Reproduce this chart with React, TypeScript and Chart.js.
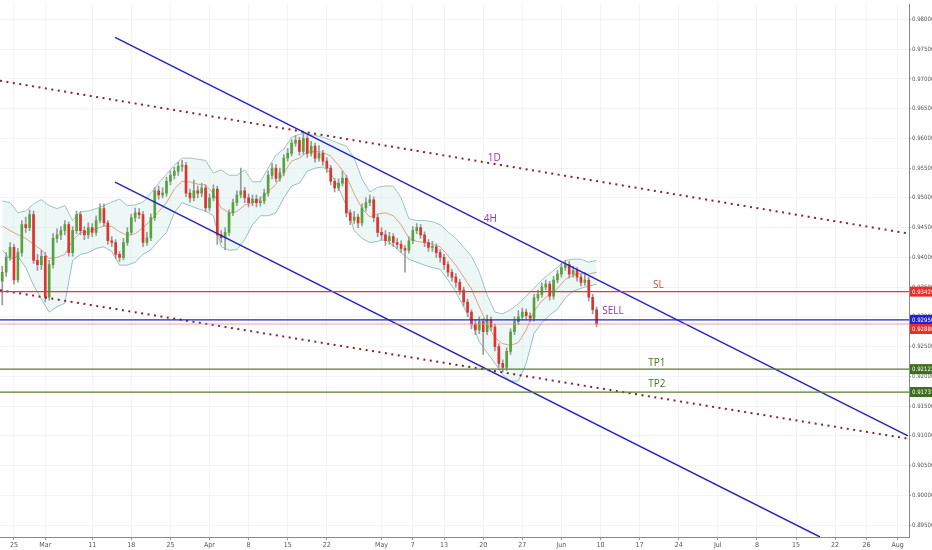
import React, { useEffect, useRef } from "react";
import { Chart, registerables } from "chart.js";

Chart.register(...registerables);

// x axis is in trading days counted from Mon 25 Feb
const xTickDays = [0, 4, 10, 15, 20, 25, 30, 35, 40, 47, 51, 55, 60, 65, 70, 75, 80, 85, 90, 95, 100, 105, 109, 113];
const xTickLabels = ["25", "Mar", "11", "18", "25", "Apr", "8", "15", "22", "May", "7", "13", "20", "27", "Jun", "10", "17", "24", "Jul", "8", "15", "22", "26", "Aug"];
const priceTicks = [0.895, 0.9, 0.905, 0.91, 0.915, 0.92, 0.925, 0.93, 0.935, 0.94, 0.945, 0.95, 0.955, 0.96, 0.965, 0.97, 0.975, 0.98];

// half-day candles
const opens = [
  0.9360, 0.9375, 0.9400, 0.9417, 0.9362, 0.9408, 0.9455, 0.9450, 0.9472, 0.9395,
  0.9388, 0.9402, 0.9333, 0.9388, 0.9432, 0.9438, 0.9445, 0.9455, 0.9408, 0.9445,
  0.9472, 0.9445, 0.9438, 0.9450, 0.9442, 0.9462, 0.9482, 0.9458, 0.9428, 0.9425,
  0.9405, 0.9400, 0.9425, 0.9442, 0.9467, 0.9475, 0.9472, 0.9425, 0.9433, 0.9467,
  0.9512, 0.9505, 0.9508, 0.9528, 0.9538, 0.9545, 0.9553, 0.9555, 0.9508, 0.9500,
  0.9512, 0.9508, 0.9517, 0.9483, 0.9500, 0.9515, 0.9438, 0.9433, 0.9442, 0.9475,
  0.9492, 0.9505, 0.9512, 0.9500, 0.9492, 0.9498, 0.9492, 0.9495, 0.9508, 0.9538,
  0.9550, 0.9533, 0.9542, 0.9567, 0.9575, 0.9592, 0.9597, 0.9578, 0.9600, 0.9575,
  0.9587, 0.9567, 0.9575, 0.9562, 0.9550, 0.9528, 0.9517, 0.9525, 0.9533, 0.9475,
  0.9462, 0.9468, 0.9458, 0.9483, 0.9492, 0.9497, 0.9467, 0.9442, 0.9438, 0.9428,
  0.9435, 0.9425, 0.9422, 0.9415, 0.9412, 0.9428, 0.9445, 0.9450, 0.9438, 0.9425,
  0.9417, 0.9418, 0.9408, 0.9400, 0.9388, 0.9375, 0.9367, 0.9358, 0.9345, 0.9325,
  0.9308, 0.9288, 0.9278, 0.9292, 0.9275, 0.9295, 0.9283, 0.9250, 0.9222, 0.9215,
  0.9242, 0.9275, 0.9292, 0.9300, 0.9308, 0.9302, 0.9298, 0.9332, 0.9338, 0.9350,
  0.9355, 0.9335, 0.9362, 0.9372, 0.9383, 0.9388, 0.9372, 0.9378, 0.9367, 0.9358,
  0.9362, 0.9333, 0.9312,
];
const highs = [
  0.9385, 0.9408, 0.9425, 0.9422, 0.9415, 0.9462, 0.9468, 0.9480, 0.9478, 0.9405,
  0.9412, 0.9408, 0.9395, 0.9440, 0.9448, 0.9452, 0.9462, 0.9460, 0.9452, 0.9478,
  0.9477, 0.9452, 0.9458, 0.9457, 0.9470, 0.9490, 0.9490, 0.9462, 0.9435, 0.9430,
  0.9410, 0.9432, 0.9450, 0.9473, 0.9483, 0.9482, 0.9477, 0.9442, 0.9473, 0.9518,
  0.9520, 0.9517, 0.9535, 0.9545, 0.9552, 0.9560, 0.9563, 0.9560, 0.9515, 0.9530,
  0.9520, 0.9525, 0.9522, 0.9507, 0.9522, 0.9520, 0.9445, 0.9450, 0.9480, 0.9498,
  0.9512, 0.9550, 0.9518, 0.9507, 0.9505, 0.9505, 0.9502, 0.9515, 0.9545, 0.9558,
  0.9556, 0.9550, 0.9573, 0.9583, 0.9598, 0.9605, 0.9602, 0.9612, 0.9605, 0.9595,
  0.9592, 0.9588, 0.9580, 0.9568, 0.9555, 0.9533, 0.9532, 0.9545, 0.9538, 0.9480,
  0.9477, 0.9473, 0.9490, 0.9500, 0.9505, 0.9502, 0.9472, 0.9450, 0.9445, 0.9442,
  0.9440, 0.9432, 0.9428, 0.9420, 0.9435, 0.9452, 0.9457, 0.9455, 0.9443, 0.9430,
  0.9427, 0.9423, 0.9413, 0.9405, 0.9393, 0.9380, 0.9373, 0.9363, 0.9350, 0.9330,
  0.9312, 0.9295, 0.9300, 0.9297, 0.9303, 0.9300, 0.9288, 0.9255, 0.9228, 0.9248,
  0.9280, 0.9300, 0.9310, 0.9315, 0.9313, 0.9307, 0.9338, 0.9345, 0.9357, 0.9362,
  0.9360, 0.9368, 0.9378, 0.9390, 0.9395, 0.9393, 0.9385, 0.9383, 0.9372, 0.9375,
  0.9367, 0.9338, 0.9317,
];
const lows = [
  0.9320, 0.9368, 0.9395, 0.9355, 0.9358, 0.9402, 0.9442, 0.9445, 0.9390, 0.9378,
  0.9380, 0.9325, 0.9328, 0.9382, 0.9425, 0.9430, 0.9438, 0.9402, 0.9402, 0.9440,
  0.9438, 0.9430, 0.9432, 0.9435, 0.9437, 0.9458, 0.9452, 0.9422, 0.9418, 0.9398,
  0.9393, 0.9396, 0.9420, 0.9438, 0.9460, 0.9465, 0.9418, 0.9420, 0.9428, 0.9462,
  0.9498, 0.9500, 0.9503, 0.9522, 0.9532, 0.9538, 0.9545, 0.9502, 0.9493, 0.9495,
  0.9500, 0.9502, 0.9477, 0.9478, 0.9495, 0.9422, 0.9425, 0.9413, 0.9437, 0.9470,
  0.9487, 0.9500, 0.9492, 0.9485, 0.9487, 0.9485, 0.9486, 0.9490, 0.9503, 0.9532,
  0.9527, 0.9528, 0.9537, 0.9562, 0.9570, 0.9587, 0.9572, 0.9573, 0.9568, 0.9570,
  0.9560, 0.9562, 0.9555, 0.9543, 0.9522, 0.9510, 0.9512, 0.9520, 0.9468, 0.9455,
  0.9457, 0.9450, 0.9453, 0.9478, 0.9487, 0.9460, 0.9435, 0.9430, 0.9420, 0.9422,
  0.9418, 0.9415, 0.9408, 0.9375, 0.9407, 0.9423, 0.9440, 0.9432, 0.9418, 0.9410,
  0.9410, 0.9400, 0.9392, 0.9380, 0.9368, 0.9360, 0.9350, 0.9338, 0.9318, 0.9300,
  0.9280, 0.9270, 0.9272, 0.9237, 0.9270, 0.9277, 0.9243, 0.9215, 0.9208, 0.9210,
  0.9237, 0.9270, 0.9287, 0.9295, 0.9295, 0.9292, 0.9293, 0.9327, 0.9333, 0.9345,
  0.9328, 0.9330, 0.9357, 0.9367, 0.9378, 0.9365, 0.9367, 0.9360, 0.9352, 0.9353,
  0.9327, 0.9305, 0.9283,
];
const closes = [
  0.9375, 0.9400, 0.9417, 0.9362, 0.9408, 0.9455, 0.9450, 0.9472, 0.9395, 0.9388,
  0.9402, 0.9333, 0.9388, 0.9432, 0.9438, 0.9445, 0.9455, 0.9408, 0.9445, 0.9472,
  0.9445, 0.9438, 0.9450, 0.9442, 0.9462, 0.9482, 0.9458, 0.9428, 0.9425, 0.9405,
  0.9400, 0.9425, 0.9442, 0.9467, 0.9475, 0.9472, 0.9425, 0.9433, 0.9467, 0.9512,
  0.9505, 0.9508, 0.9528, 0.9538, 0.9545, 0.9553, 0.9555, 0.9508, 0.9500, 0.9512,
  0.9508, 0.9517, 0.9483, 0.9500, 0.9515, 0.9438, 0.9433, 0.9442, 0.9475, 0.9492,
  0.9505, 0.9512, 0.9500, 0.9492, 0.9498, 0.9492, 0.9495, 0.9508, 0.9538, 0.9550,
  0.9533, 0.9542, 0.9567, 0.9575, 0.9592, 0.9597, 0.9578, 0.9600, 0.9575, 0.9587,
  0.9567, 0.9575, 0.9562, 0.9550, 0.9528, 0.9517, 0.9525, 0.9533, 0.9475, 0.9462,
  0.9468, 0.9458, 0.9483, 0.9492, 0.9497, 0.9467, 0.9442, 0.9438, 0.9428, 0.9435,
  0.9425, 0.9422, 0.9415, 0.9412, 0.9428, 0.9445, 0.9450, 0.9438, 0.9425, 0.9417,
  0.9418, 0.9408, 0.9400, 0.9388, 0.9375, 0.9367, 0.9358, 0.9345, 0.9325, 0.9308,
  0.9288, 0.9278, 0.9292, 0.9275, 0.9295, 0.9283, 0.9250, 0.9222, 0.9215, 0.9242,
  0.9275, 0.9292, 0.9300, 0.9308, 0.9302, 0.9298, 0.9332, 0.9338, 0.9350, 0.9355,
  0.9335, 0.9362, 0.9372, 0.9383, 0.9388, 0.9372, 0.9378, 0.9367, 0.9358, 0.9362,
  0.9333, 0.9312, 0.9288,
];

// Bollinger bands, one reading per day
const upperBand = [
  0.9495, 0.9492, 0.9475, 0.9478, 0.9490, 0.9497, 0.9487, 0.9482, 0.9487, 0.9462,
  0.9477, 0.9478, 0.9482, 0.9487, 0.9493, 0.9498, 0.9487, 0.9488, 0.9493, 0.9508,
  0.9525, 0.9540, 0.9555, 0.9567, 0.9567, 0.9565, 0.9563, 0.9542, 0.9547, 0.9538,
  0.9538, 0.9547, 0.9527, 0.9527, 0.9550, 0.9572, 0.9582, 0.9602, 0.9607, 0.9608,
  0.9605, 0.9602, 0.9597, 0.9592, 0.9587, 0.9567, 0.9532, 0.9510, 0.9518, 0.9520,
  0.9520, 0.9500, 0.9465, 0.9462, 0.9462, 0.9460, 0.9455, 0.9443, 0.9432, 0.9417,
  0.9402, 0.9375, 0.9337, 0.9308, 0.9305, 0.9312, 0.9322, 0.9335, 0.9348, 0.9362,
  0.9373, 0.9383, 0.9395, 0.9397, 0.9397, 0.9392, 0.9395,
];
const midBand = [
  0.9453, 0.9445, 0.9438, 0.9432, 0.9422, 0.9413, 0.9398, 0.9400, 0.9405, 0.9428,
  0.9442, 0.9443, 0.9448, 0.9453, 0.9452, 0.9443, 0.9437, 0.9440, 0.9450, 0.9462,
  0.9477, 0.9492, 0.9515, 0.9528, 0.9527, 0.9523, 0.9522, 0.9507, 0.9483, 0.9475,
  0.9477, 0.9488, 0.9492, 0.9498, 0.9510, 0.9523, 0.9542, 0.9562, 0.9567, 0.9577,
  0.9578, 0.9577, 0.9570, 0.9555, 0.9537, 0.9507, 0.9482, 0.9468, 0.9473, 0.9475,
  0.9470, 0.9455, 0.9432, 0.9427, 0.9425, 0.9422, 0.9418, 0.9403, 0.9387, 0.9367,
  0.9347, 0.9317, 0.9288, 0.9265, 0.9255, 0.9252, 0.9257, 0.9278, 0.9310, 0.9327,
  0.9338, 0.9348, 0.9363, 0.9370, 0.9373, 0.9372, 0.9375,
];
const lowerBand = [
  0.9412, 0.9397, 0.9402, 0.9383, 0.9353, 0.9330, 0.9308, 0.9317, 0.9323, 0.9395,
  0.9405, 0.9408, 0.9415, 0.9418, 0.9410, 0.9387, 0.9387, 0.9392, 0.9405, 0.9413,
  0.9428, 0.9442, 0.9475, 0.9492, 0.9487, 0.9482, 0.9478, 0.9470, 0.9418, 0.9412,
  0.9413, 0.9430, 0.9455, 0.9470, 0.9470, 0.9475, 0.9500, 0.9520, 0.9525, 0.9545,
  0.9550, 0.9552, 0.9542, 0.9517, 0.9487, 0.9445, 0.9432, 0.9425, 0.9427, 0.9430,
  0.9420, 0.9408, 0.9397, 0.9392, 0.9387, 0.9383, 0.9380, 0.9362, 0.9342, 0.9317,
  0.9292, 0.9258, 0.9240, 0.9222, 0.9203, 0.9192, 0.9192, 0.9222, 0.9272, 0.9290,
  0.9303, 0.9313, 0.9332, 0.9343, 0.9348, 0.9352, 0.9355,
];

// trend lines: [day, price] end points
const trend1D = [[-1.79, 0.9697], [114.45, 0.944]];
const trend1DLow = [[-1.79, 0.9345], [114.45, 0.9095]];
const channelHigh = [[12.92, 0.977], [114.32, 0.91]];
const channelLow = [[12.92, 0.95267], [103.07, 0.893]];

const slLevel = 0.93425;
const entryLevel = 0.9295;
const lastPrice = 0.9288;
const tp1Level = 0.92122;
const tp2Level = 0.91737;

const notes = [
  { text: "1D", day: 61.4, price: 0.9567, color: "#a02cc0" },
  { text: "4H", day: 60.9, price: 0.9465, color: "#a02cc0" },
  { text: "SL", day: 82.4, price: 0.9353, color: "#e53935" },
  { text: "SELL", day: 76.6, price: 0.931, color: "#a02cc0" },
  { text: "TP1", day: 82.2, price: 0.9222, color: "#3f7a22" },
  { text: "TP2", day: 82.2, price: 0.9187, color: "#3f7a22" },
];

const priceTags = [
  { price: slLevel, color: "#e8302a", shift: 0 },
  { price: entryLevel, color: "#2323d4", shift: 0 },
  { price: lastPrice, color: "#e8302a", shift: 5 },
  { price: tp1Level, color: "#3e6e1e", shift: 0 },
  { price: tp2Level, color: "#3e6e1e", shift: 0 },
];

const X_MIN = -1.79;
const X_MAX = 114.45;
const FONT = "'Open Sans', 'Liberation Sans', sans-serif";
const AXIS_FONT = "'Liberation Sans Narrow', 'DejaVu Sans Condensed', 'Liberation Sans', sans-serif";

const labelPlugin = {
  id: "labels",
  afterDatasetsDraw(chart: any) {
    const { ctx, chartArea, scales } = chart;
    const xs = scales.x;
    const ys = scales.y;
    ctx.save();
    ctx.textAlign = "center";
    ctx.textBaseline = "middle";
    ctx.font = `10px ${FONT}`;
    notes.forEach((n) => {
      ctx.fillStyle = n.color;
      ctx.fillText(n.text, xs.getPixelForValue(n.day), ys.getPixelForValue(n.price));
    });
    ctx.font = `6px ${AXIS_FONT}`;
    ctx.textAlign = "left";
    priceTags.forEach((t) => {
      const py = ys.getPixelForValue(t.price) + t.shift;
      ctx.fillStyle = t.color;
      ctx.fillRect(chartArea.right + 1, py - 5, chart.width - chartArea.right - 1, 10);
      ctx.fillStyle = "#ffffff";
      ctx.fillText(t.price.toFixed(5), chartArea.right + 3, py + 0.5);
    });
    ctx.restore();
  },
};

const line = (pts: number[][], color: string, width: number, dash: number[] = [], order = 1) => ({
  type: "line" as const,
  data: pts.map(([x, y]) => ({ x, y })),
  borderColor: color,
  borderWidth: width,
  borderDash: dash,
  pointRadius: 0,
  fill: false,
  order,
});

const App = () => {
  const chartRef = useRef<HTMLCanvasElement>(null);

  useEffect(() => {
    if (!chartRef.current) return;
    const barDays = closes.map((_, i) => -1.5 + i * 0.5);
    const bandDays = upperBand.map((_, k) => -1.5 + k);
    const up = closes.map((c, i) => c >= opens[i]);

    const myChart = new Chart(chartRef.current, {
      type: "bar",
      data: {
        datasets: [
          {
            type: "line",
            data: bandDays.map((x, k) => ({ x, y: upperBand[k] })),
            borderColor: "#7fb0ad",
            borderWidth: 0.8,
            pointRadius: 0,
            fill: false,
            order: 20,
          },
          {
            type: "line",
            data: bandDays.map((x, k) => ({ x, y: lowerBand[k] })),
            borderColor: "#7fb0ad",
            borderWidth: 0.8,
            pointRadius: 0,
            fill: "-1",
            backgroundColor: "rgba(190, 225, 223, 0.28)",
            order: 19,
          },
          {
            type: "line",
            data: bandDays.map((x, k) => ({ x, y: midBand[k] })),
            borderColor: "#dc8c70",
            borderWidth: 0.8,
            pointRadius: 0,
            fill: false,
            order: 18,
          },
          {
            type: "bar",
            data: barDays.map((x, i) => ({ x, y: [lows[i], highs[i]] })),
            backgroundColor: "#9a9a9a",
            barThickness: 1,
            grouped: false,
            order: 10,
          },
          {
            type: "bar",
            data: barDays.map((x, i) => ({ x, y: [opens[i], closes[i]] })),
            backgroundColor: up.map((u) => (u ? "#56a23c" : "#e1322b")),
            barThickness: 2,
            minBarLength: 1,
            grouped: false,
            order: 9,
          },
          line([[X_MIN, slLevel], [X_MAX, slLevel]], "#f0342c", 1.4),
          line([[X_MIN, entryLevel], [X_MAX, entryLevel]], "#2020d0", 1.4),
          line([[X_MIN, lastPrice], [X_MAX, lastPrice]], "#e88a8a", 0.8),
          line([[X_MIN, tp1Level], [X_MAX, tp1Level]], "#5b7d2c", 1.2),
          line([[X_MIN, tp2Level], [X_MAX, tp2Level]], "#5b7d2c", 1.2),
          line(channelHigh, "#2222c4", 1.4),
          line(channelLow, "#2222c4", 1.4),
          line(trend1D, "#8a2230", 2, [2, 4.5]),
          line(trend1DLow, "#8a2230", 2, [2, 4.5]),
        ] as any,
      },
      options: {
        animation: false,
        responsive: false,
        maintainAspectRatio: false,
        layout: { padding: 0 },
        plugins: {
          legend: { display: false },
          tooltip: { enabled: false },
        },
        scales: {
          x: {
            type: "linear",
            min: X_MIN,
            max: X_MAX,
            offset: false,
            afterBuildTicks: (s: any) => {
              s.ticks = xTickDays.map((v) => ({ value: v }));
            },
            afterFit: (s: any) => {
              s.height = 13;
            },
            ticks: {
              autoSkip: false,
              maxRotation: 0,
              padding: 1,
              color: "#555",
              font: { size: 7, family: AXIS_FONT },
              callback: (v: any) => {
                const i = xTickDays.indexOf(Number(v));
                return i >= 0 ? xTickLabels[i] : "";
              },
            },
            grid: {
              offset: false,
              color: "rgba(0,0,0,0.045)",
              tickColor: "#999",
              tickLength: 3,
            },
            border: { color: "#8a8a8a" },
          },
          y: {
            type: "linear",
            position: "right",
            min: 0.893,
            max: 0.9825,
            afterBuildTicks: (s: any) => {
              s.ticks = priceTicks.map((v) => ({ value: v }));
            },
            afterFit: (s: any) => {
              s.width = 23;
            },
            ticks: {
              padding: 1,
              color: "#555",
              font: { size: 6, family: AXIS_FONT },
              callback: (v: any) => Number(v).toFixed(5),
            },
            grid: {
              color: "rgba(0,0,0,0.045)",
              tickColor: "#999",
              tickLength: 2,
            },
            border: { color: "#8a8a8a" },
          },
        },
      },
      plugins: [labelPlugin],
    });

    return () => {
      myChart.destroy();
    };
  }, []);

  return (
    <div style={{ position: "absolute", left: 0, top: 0, width: 932, height: 550, background: "#fff" }}>
      <canvas ref={chartRef} width={932} height={550} />
    </div>
  );
};

export default App;
